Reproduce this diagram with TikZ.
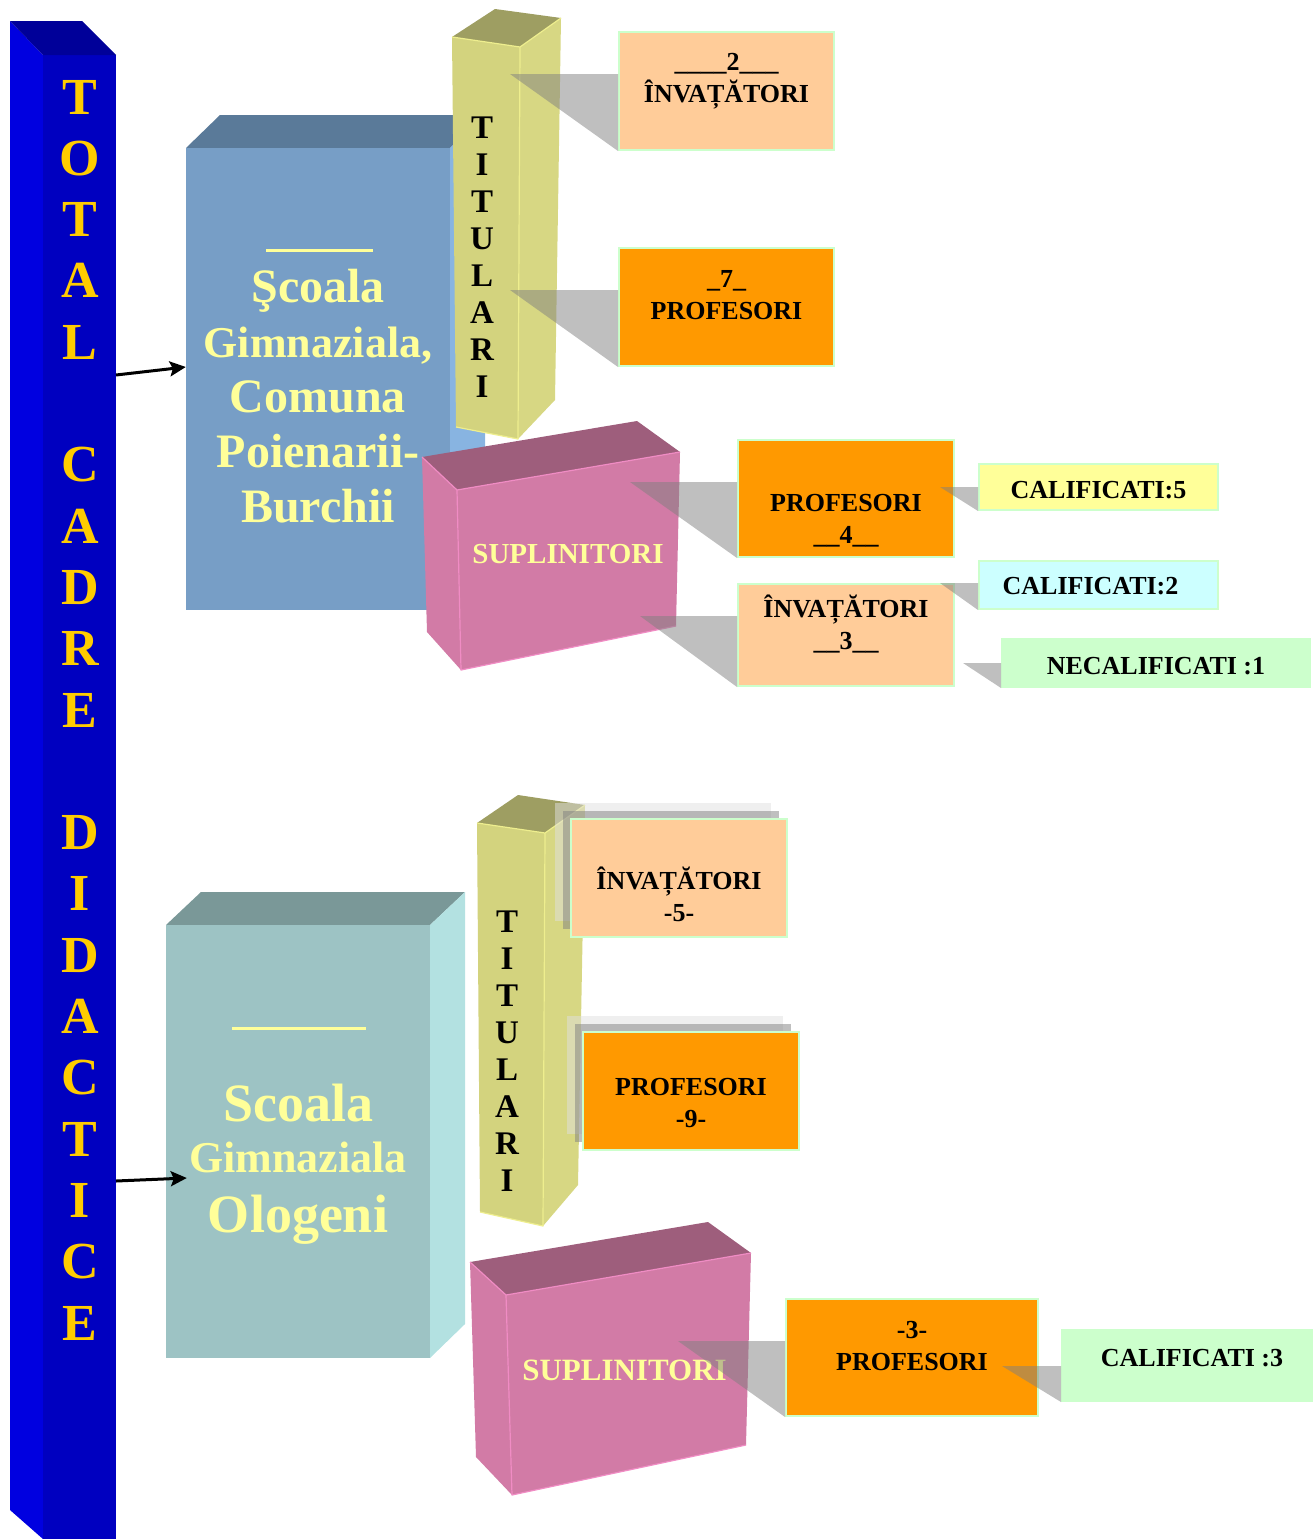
\documentclass[tikz,border=0pt]{standalone}
\usepackage{fontspec}
\setmainfont{Liberation Serif}
\usetikzlibrary{arrows.meta,positioning,shadows}

\definecolor{bluefront}{HTML}{0000C0}
\definecolor{blueleft}{HTML}{0000E0}
\definecolor{bluetop}{HTML}{000099}
\definecolor{gold}{HTML}{FFCC00}
\definecolor{paleyellow}{HTML}{FFFF99}
\definecolor{s1front}{HTML}{779EC6}
\definecolor{s1top}{HTML}{5A7A99}
\definecolor{s1right}{HTML}{88B4E1}
\definecolor{s2front}{HTML}{9DC3C4}
\definecolor{s2top}{HTML}{7A9898}
\definecolor{s2right}{HTML}{B3E1E1}
\definecolor{titfront}{HTML}{D3D37E}
\definecolor{titright}{HTML}{D7D783}
\definecolor{tittop}{HTML}{9E9E62}
\definecolor{titedge}{HTML}{EEEE8E}
\definecolor{pinkfront}{HTML}{D27BA6}
\definecolor{pinktop}{HTML}{9E5E7C}
\definecolor{pinkedge}{HTML}{F08CC4}
\definecolor{peach}{HTML}{FFCC99}
\definecolor{orange}{HTML}{FF9900}
\definecolor{palecyan}{HTML}{CCFFFF}
\definecolor{palegreen}{HTML}{CCFFCC}

\begin{document}
\begin{tikzpicture}[x=1pt,y=-1pt,>={Stealth[length=16pt,width=15pt,inset=3pt]},
    box/.style={draw=palegreen,line width=2pt,inner sep=0pt},
    boxtext/.style={font=\fontsize{26}{32}\selectfont\bfseries,align=center,inner sep=0pt},
    schooltext/.style={text=paleyellow,align=center,inner sep=0pt},
    lettercol/.style={font=\fontsize{33}{37}\selectfont\bfseries,align=center,inner sep=0pt},
    suptext/.style={text=paleyellow,inner sep=0pt},
    stacked/.style={copy shadow={shadow xshift=-16pt,shadow yshift=16pt,fill=black!12,draw=none,opacity=0.5},
                    copy shadow={shadow xshift=-8pt,shadow yshift=8pt,fill=black!50,draw=none,opacity=0.5}},
    callout/.style={fill=black!50,opacity=0.5},
    face/.style={line width=1.2pt,line join=round}]

    \useasboundingbox (0,0) rectangle (1313,1539);

    \fill[blueleft] (10,21) -- (43,55) -- (43,1539) -- (10,1510) -- cycle;
    \fill[bluefront] (43,55) rectangle (116,1539);
    \fill[bluetop] (10,21) -- (82,21) -- (116,55) -- (43,55) -- cycle;
    \node[font=\fontsize{52}{61.3}\selectfont\bfseries,text=gold,align=center,inner sep=0pt] (total) at (80,710)
        {T\\O\\T\\A\\L\\~\\C\\A\\D\\R\\E\\~\\D\\I\\D\\A\\C\\T\\I\\C\\E};

    \fill[s1top] (186,148) -- (220,115) -- (485,115) -- (450,148) -- cycle;
    \fill[s1right] (450,148) -- (485,115) -- (485,577) -- (450,610) -- cycle;
    \node[fill=s1front,minimum width=264,minimum height=462,inner sep=0pt,
          label={[schooltext,font=\fontsize{48}{55}\selectfont\bfseries,yshift=-17]center:{Şcoala\\{\fontsize{44}{55}\selectfont Gimnaziala,}\\Comuna\\Poienarii-\\Burchii}}] (scoala1) at (318,379) {};
    \draw[paleyellow,line width=3pt] (266,250) -- (373,250);

    \fill[titfront] (452,37) -- (520,47) -- (518,439) -- (456,427) -- cycle;
    \fill[titright] (520,47) -- (561,18) -- (555,400) -- (518,439) -- cycle;
    \fill[tittop] (452,37) -- (495,9) -- (561,18) -- (520,47) -- cycle;
    \draw[titedge,face] (452,37) -- (520,47) -- (561,18) (520,47) -- (518,439) -- (456,427);
    \node[lettercol] (tit1) at (482,257.5) {T\\I\\T\\U\\L\\A\\R\\I};

    \fill[pinkfront] (422,457) -- (457,490) -- (461,670) -- (427,632) -- cycle;
    \fill[pinkfront] (457,490) -- (680,452) -- (676,626) -- (461,670) -- cycle;
    \fill[pinktop] (422,457) -- (637,421) -- (680,452) -- (457,490) -- cycle;
    \draw[pinkedge,face] (422,457) -- (457,490) -- (680,452) (457,490) -- (461,670) -- (676,626);
    \node[suptext,font=\fontsize{29}{29}\selectfont\bfseries] (sup1) at (568,554) {SUPLINITORI};

    \node[box,fill=peach,minimum width=215,minimum height=118,
          label={[boxtext,yshift=10]center:{\_\_\_\_2\_\_\_\\ÎNVAȚĂTORI}}] (inv2) at (726.5,91) {};
    \node[box,fill=orange,minimum width=215,minimum height=118,
          label={[boxtext,yshift=12]center:{\_7\_\\PROFESORI}}] (prof7) [below=96pt of inv2] {};
    \node[box,fill=orange,minimum width=216,minimum height=117,
          label={[boxtext,yshift=-22.5]center:{PROFESORI\\\_\_4\_\_}}] (prof4) at (846,498.5) {};
    \node[box,fill=peach,minimum width=216,minimum height=102,
          label={[boxtext,yshift=11]center:{ÎNVAȚĂTORI\\\_\_3\_\_}}] (inv3) [below=25pt of prof4] {};
    \node[box,fill=paleyellow,minimum width=239,minimum height=46,
          label={[boxtext,yshift=-3]center:{CALIFICATI:5}}] (calif5) at (1098.5,487) {};
    \node[box,fill=palecyan,minimum width=239,minimum height=48,
          label={[boxtext,yshift=-1.5,xshift=-8]center:{CALIFICATI:2}}] (calif2) [below=49pt of calif5] {};
    \node[box,fill=palegreen,minimum width=308,minimum height=48,
          label={[boxtext,yshift=-3]center:{NECALIFICATI :1}}] (necalif1) at (1156,663) {};

    \fill[s2top] (166,925) -- (201,892) -- (465,892) -- (430,925) -- cycle;
    \fill[s2right] (430,925) -- (465,892) -- (465,1324) -- (430,1358) -- cycle;
    \node[fill=s2front,minimum width=264,minimum height=433,inner sep=0pt,
          label={[schooltext,font=\fontsize{54}{51}\selectfont\bfseries,yshift=-22.7]center:{Scoala\\{\fontsize{44}{51}\selectfont Gimnaziala}\\[9pt]Ologeni}}] (scoala2) at (298,1141.5) {};
    \draw[paleyellow,line width=3pt] (232,1028) -- (366,1028);

    \fill[titfront] (477,823) -- (545,833) -- (543,1226) -- (480,1212) -- cycle;
    \fill[titright] (545,833) -- (585,805) -- (578,1185) -- (543,1226) -- cycle;
    \fill[tittop] (477,823) -- (518,795) -- (585,805) -- (545,833) -- cycle;
    \draw[titedge,face] (477,823) -- (545,833) -- (585,805) (545,833) -- (543,1226) -- (480,1212);
    \node[lettercol] (tit2) at (507,1051) {T\\I\\T\\U\\L\\A\\R\\I};

    \node[box,stacked,fill=peach,minimum width=216,minimum height=118,
          label={[boxtext,yshift=-16.5]center:{ÎNVAȚĂTORI\\-5-}}] (inv5) at (679,878) {};
    \node[box,stacked,fill=orange,minimum width=216,minimum height=118,
          label={[boxtext,yshift=-12.4]center:{PROFESORI\\-9-}}] (prof9) at (691,1091) {};

    \fill[pinkfront] (470,1262) -- (506,1295) -- (512,1495) -- (476,1457) -- cycle;
    \fill[pinkfront] (506,1295) -- (751,1253) -- (746,1445) -- (512,1495) -- cycle;
    \fill[pinktop] (470,1262) -- (708,1222) -- (751,1253) -- (506,1295) -- cycle;
    \draw[pinkedge,face] (470,1262) -- (506,1295) -- (751,1253) (506,1295) -- (512,1495) -- (746,1445);
    \node[suptext,font=\fontsize{31}{31}\selectfont\bfseries] (sup2) at (624.5,1370.5) {SUPLINITORI};

    \node[box,fill=orange,minimum width=252,minimum height=117,
          label={[boxtext,yshift=11.8]center:{-3-\\PROFESORI}}] (prof3) at (912,1357.5) {};
    \node[box,fill=palegreen,minimum width=251,minimum height=71,
          label={[boxtext,yshift=7,xshift=4.5]center:{CALIFICATI :3}}] (calif3) at (1187.5,1365.5) {};

    \foreach \tx/\ty/\n in {510/74/inv2, 510/290/prof7, 630/482/prof4, 640/616/inv3,
                           940/487/calif5, 940/583/calif2, 963/663/necalif1,
                           678/1341/prof3, 1002/1366/calif3}
        \fill[callout] (\tx,\ty) -- (\n.west |- \tx,\ty) -- (\n.south west) -- cycle;

    \coordinate (from1) at (116,375);
    \coordinate (from2) at (116,1181);
    \draw[->,line width=3pt] (from1) -- ([yshift=12pt]scoala1.west);
    \draw[->,line width=3pt] (from2) -- ([xshift=21pt,yshift=-36.5pt]scoala2.west);

\end{tikzpicture}
\end{document}
